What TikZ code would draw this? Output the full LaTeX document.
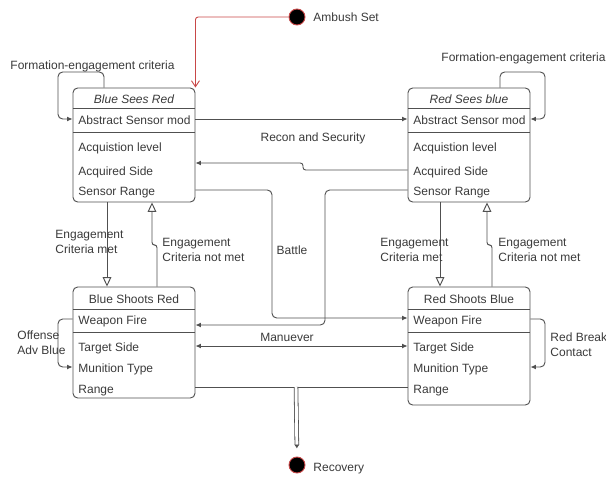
\documentclass[tikz,border=0pt]{standalone}
\usepackage{fontspec}
\setmainfont{Liberation Sans}
\usetikzlibrary{arrows.meta,calc}
\definecolor{ink}{HTML}{3A3A3A}
\definecolor{wire}{HTML}{505050}
\definecolor{ambush}{HTML}{C84848}

\begin{document}
\begin{tikzpicture}[x=0.75pt,y=-0.75pt,line width=0.7pt,
  font=\fontsize{9}{11.2}\selectfont,text=ink,
  state/.style={draw=wire,rounded corners=3.5pt,minimum width=91.5pt,inner sep=0pt},
  row/.style={anchor=west,inner sep=0pt,text height=6.6pt,text depth=1.9pt},
  head/.style={inner sep=0pt,text height=6.6pt,text depth=1.9pt},
  lbl/.style={inner sep=0pt,align=left},
  flow/.style={draw=wire,-{Latex[length=4pt,width=3.6pt]},rounded corners=3.5pt},
  guard/.style={draw=wire,-{Triangle[open,length=7pt,width=6.5pt,fill=white]},rounded corners=2pt},
  dot/.style={circle,fill=black,draw=ambush,minimum size=12pt,inner sep=0pt}]
\useasboundingbox (0,0) rectangle (606,478);
\clip (0,0) rectangle (606,478);

% start and end
\node[dot] (ambushDot) at (297,17) {};
\node[lbl,anchor=west] (ambushLbl) at (313,17) {Ambush Set};
\node[dot] (recovery) at (297,465) {};
\node[lbl,anchor=west] (recoveryLbl) at (313,469) {Recovery};

% Blue Sees Red
\node[state,minimum height=85.5pt] (bsr) at (134,145) {};
\node[head,font=\fontsize{9}{11}\selectfont\itshape] (bsrTitle) at (134,100) {Blue Sees Red};
\draw[wire] (bsr.west |- 0,108) -- (bsr.east |- 0,108);
\draw[wire] (bsr.west |- 0,132) -- (bsr.east |- 0,132);
\node[row] (bsrAbs) at (78,121) {Abstract Sensor mod};
\node[row] (bsrAcq) at (78,148) {Acquistion level};
\node[row] (bsrSide) at (78,172) {Acquired Side};
\node[row] (bsrRange) at (78,192) {Sensor Range};

% Red Sees blue
\node[state,minimum height=85.5pt] (rsb) at (469,145) {};
\node[head,font=\fontsize{9}{11}\selectfont\itshape] (rsbTitle) at (469,100) {Red Sees blue};
\draw[wire] (rsb.west |- 0,108) -- (rsb.east |- 0,108);
\draw[wire] (rsb.west |- 0,132) -- (rsb.east |- 0,132);
\node[row] (rsbAbs) at (413,121) {Abstract Sensor mod};
\node[row] (rsbAcq) at (413,148) {Acquistion level};
\node[row] (rsbSide) at (413,172) {Acquired Side};
\node[row] (rsbRange) at (413,192) {Sensor Range};

% Blue Shoots Red
\node[state,minimum height=83.25pt] (bfire) at (134,342.5) {};
\node[head] (bfireTitle) at (134,300) {Blue Shoots Red};
\draw[wire] (bfire.west |- 0,309) -- (bfire.east |- 0,309);
\draw[wire] (bfire.west |- 0,332) -- (bfire.east |- 0,332);
\node[row] (bfireWeapon) at (78,321) {Weapon Fire};
\node[row] (bfireSide) at (78,348) {Target Side};
\node[row] (bfireMun) at (78,369) {Munition Type};
\node[row] (bfireRange) at (78,390) {Range};

% Red Shoots Blue
\node[state,minimum height=88.5pt] (rfire) at (469,346) {};
\node[head] (rfireTitle) at (469,300) {Red Shoots Blue};
\draw[wire] (rfire.west |- 0,309) -- (rfire.east |- 0,309);
\draw[wire] (rfire.west |- 0,332) -- (rfire.east |- 0,332);
\node[row] (rfireWeapon) at (413,321) {Weapon Fire};
\node[row] (rfireSide) at (413,348) {Target Side};
\node[row] (rfireMun) at (413,369) {Munition Type};
\node[row] (rfireRange) at (413,390) {Range};

% ambush entry
\draw[ambush,-{Straight Barb[length=4.5pt,width=6pt]},rounded corners=2pt] (ambushDot.west) -| (bsr.north east);

% self loops
\draw[flow] (104,0 |- bsr.north) -- (104,72) -- (58,72) -- (58,119) -- (bsr.west |- 0,119);
\node[lbl] (bsrLoop) at (92.5,66) {Formation-engagement criteria};
\draw[flow] (500,0 |- rsb.north) -- (500,72) -- (545,72) -- (545,119) -- (rsb.east |- 0,119);
\node[lbl] (rsbLoop) at (523.5,58) {Formation-engagement criteria};
\draw[flow] (bfire.west |- 0,319) -- (58,319) -- (58,367) -- (bfire.west |- 0,367);
\node[lbl,anchor=west] (offense) at (17,342.5) {Offense\\Adv Blue};
\draw[flow] (rfire.east |- 0,319) -- (545,319) -- (545,367) -- (rfire.east |- 0,367);
\node[lbl,anchor=west] (breakoff) at (550,345) {Red Breaks\\Contact};

% sensing
\draw[flow] (bsr.east |- 0,119) -- (rsb.west |- 0,119);
\node[lbl] (recon) at (313,138) {Recon and Security};
\draw[flow,rounded corners=2pt] (rsb.west |- 0,170) -- (303,170) -- (303,163) -- (bsr.east |- 0,163);

% battle
\draw[flow] (bsr.east |- 0,190) -- (272,190) -- (272,318) -- (rfire.west |- 0,318);
\node[lbl] (battle) at (292,250) {Battle};
\draw[flow] (rsb.west |- 0,190) -- (325,190) -- (325,325) -- (bfire.east |- 0,325);
\draw[flow,{Latex[length=4pt,width=3.6pt]}-{Latex[length=4pt,width=3.6pt]}] (bfire.east |- 0,346) -- (rfire.west |- 0,346);
\node[lbl] (maneuver) at (287,337) {Manuever};

% engagement
\draw[guard] (107,0 |- bsr.south) -- (107,0 |- bfire.north);
\node[lbl,anchor=west] (bEngage) at (55,242) {Engagement\\Criteria met};
\draw[guard] (157,0 |- bfire.north) -- (157,245) -- (152,245) -- (152,0 |- bsr.south);
\node[lbl,anchor=west] (bNoEngage) at (162,249.5) {Engagement\\Criteria not met};
\draw[guard] (440,0 |- rsb.south) -- (440,0 |- rfire.north);
\node[lbl,anchor=west] (rEngage) at (380,249.5) {Engagement\\Criteria met};
\draw[guard] (492,0 |- rfire.north) -- (492,245) -- (487,245) -- (487,0 |- rsb.south);
\node[lbl,anchor=west] (rNoEngage) at (498,249.5) {Engagement\\Criteria not met};

% recovery
\coordinate (merge) at (296,387);
\draw[wire] (bfire.east |- merge) -- (rfire.west |- merge);
\draw[draw=wire,double,double distance=2.2pt,line width=0.6pt,-{Latex[length=3pt,width=4pt]},shorten >=6pt] (merge) -- (recovery.north);
\end{tikzpicture}
\end{document}
